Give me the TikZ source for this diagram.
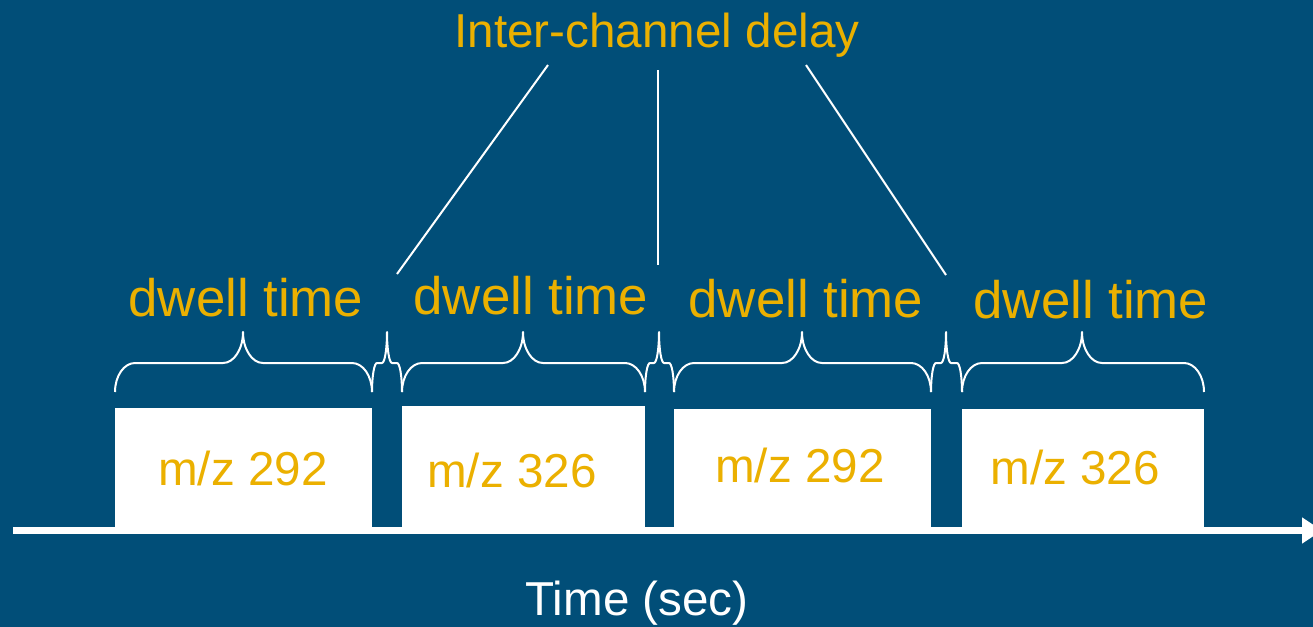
\documentclass[tikz,border=0pt]{standalone}
\usepackage{fontspec}
\setmainfont{Liberation Sans}
\usetikzlibrary{arrows.meta}
\definecolor{bgblue}{HTML}{014E78}
\definecolor{gold}{HTML}{EBB000}
\tikzset{
  lbl/.style={text=gold, font=\fontsize{26.4}{30}\selectfont, anchor=base, inner sep=0pt},
  mz/.style={text=gold, font=\fontsize{23.8}{28}\selectfont, anchor=base, inner sep=0pt},
  bracestyle/.style={draw=white, line width=1pt, line join=round},
  pointer/.style={draw=white, line width=1pt},
  axis/.style={draw=white, line width=3.5pt, -{Triangle[length=10pt,width=12.5pt]}}
}
\newcommand{\mybrace}[4]{% left, tip, right, radius
  \draw[bracestyle] (#1,392) .. controls (#1,376) and ({#1+0.448*#4},363) .. ({#1+#4},363) -- ({#2-#4},363)
    .. controls ({#2-0.448*#4},363) and (#2,349) .. (#2,332)
    .. controls (#2,349) and ({#2+0.448*#4},363) .. ({#2+#4},363)
    -- ({#3-#4},363) .. controls ({#3-0.448*#4},363) and (#3,376) .. (#3,392);}
\begin{document}
\begin{tikzpicture}[x=0.5pt,y=-0.5pt]
\fill[bgblue] (0,0) rectangle (1313,627);
\useasboundingbox (0,0) rectangle (1313,627);
% slots
\fill[white] (115,408) rectangle (372,528);
\fill[white] (402,406) rectangle (645,528);
\fill[white] (674,409) rectangle (931,528);
\fill[white] (962,409) rectangle (1204,528);
% axis
\coordinate (axstart) at (13,530.5);
\coordinate (axend) at (1322,530.5);
\draw[axis] (axstart) -- (axend);
% slot labels
\node[mz] (m1) at (243,485) {m/z 292};
\node[mz] (m2) at (512,487) {m/z 326};
\node[mz] (m3) at (800,482) {m/z 292};
\node[mz] (m4) at (1075,484) {m/z 326};
% braces
\mybrace{115}{243}{372}{20}
\mybrace{372}{387}{402}{5}
\mybrace{402}{523}{645}{20}
\mybrace{645}{659}{674}{5}
\mybrace{674}{802}{931}{20}
\mybrace{931}{946}{962}{5}
\mybrace{962}{1082}{1204}{20}
% dwell labels
\node[lbl] (d1) at (246,316) {dwell time};
\node[lbl] (d2) at (531,314) {dwell time};
\node[lbl] (d3) at (806,317) {dwell time};
\node[lbl] (d4) at (1091,318) {dwell time};
% title
\node[mz] (title) at (657,47) {Inter-channel delay};
\coordinate (p1s) at (548,65);
\coordinate (p1e) at (397,274);
\coordinate (p2s) at (658,70);
\coordinate (p2e) at (658,265);
\coordinate (p3s) at (806,65);
\coordinate (p3e) at (946,275);
\draw[pointer] (p1s) -- (p1e);
\draw[pointer] (p2s) -- (p2e);
\draw[pointer] (p3s) -- (p3e);
% axis label
\node[mz, text=white] (time) at (637,615) {Time (sec)};
\end{tikzpicture}
\end{document}
